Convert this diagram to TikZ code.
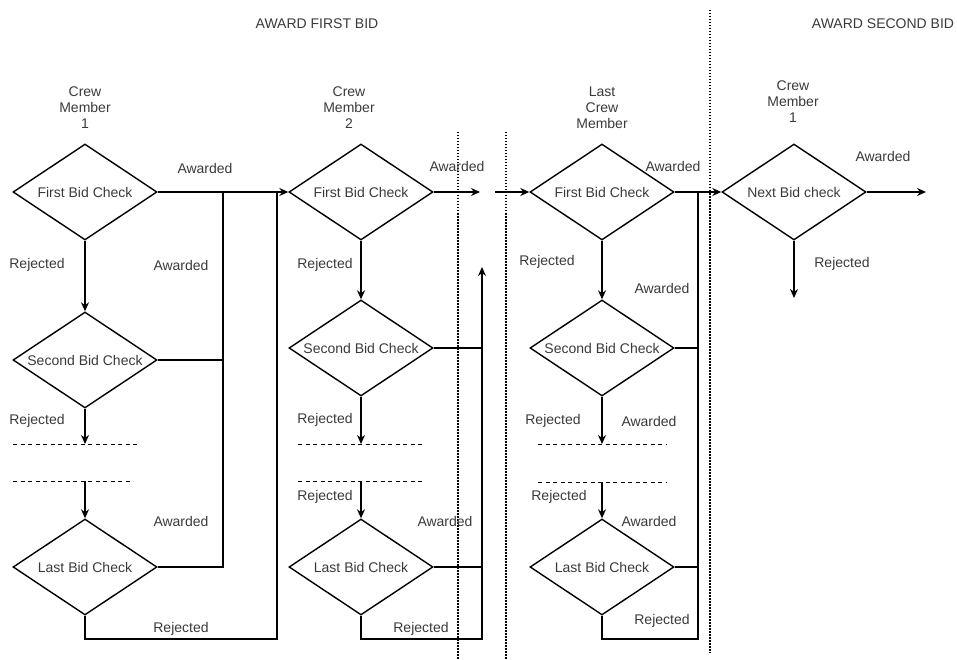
\documentclass[tikz,border=0pt]{standalone}
\usepackage{fontspec}
\setmainfont{Liberation Sans}
\usetikzlibrary{shapes.geometric,arrows.meta}
\definecolor{txt}{HTML}{3A3A3A}
\begin{document}
\begin{tikzpicture}[x=1pt, y=-1pt, >={Stealth[length=9pt,width=8pt]}, font=\fontsize{14}{16}\selectfont,
	check/.style={draw, diamond, aspect=1.5, line width=1.4pt, minimum width=144pt, minimum height=96pt, inner sep=0pt, text=txt},
	lab/.style={text=txt, inner sep=0pt},
	flow/.style={line width=1.4pt},
	cut/.style={line width=1pt, dash pattern=on 4pt off 3.5pt},
	split/.style={line width=1.2pt, dash pattern=on 1.5pt off 1.5pt}]
		\useasboundingbox (0,0) rectangle (957,660);
		% titles and crew headers
		\node[lab] (t1) at (317,24) {AWARD FIRST BID};
		\node[lab] (t2) at (883,24) {AWARD SECOND BID};
		\node[lab, align=center] (h1) at (85,108) {Crew\\Member\\1};
		\node[lab, align=center] (h2) at (349,108) {Crew\\Member\\2};
		\node[lab, align=center] (h3) at (602,108) {Last\\Crew\\Member};
		\node[lab, align=center] (h4) at (793,102) {Crew\\Member\\1};
		% checks
		\node[check] (f1) at (85,192) {First Bid Check};
		\node[check] (s1) at (85,360) {Second Bid Check};
		\node[check] (l1) at (85,567) {Last Bid Check};
		\node[check] (f2) at (361,192) {First Bid Check};
		\node[check] (s2) at (361,348) {Second Bid Check};
		\node[check] (l2) at (361,567) {Last Bid Check};
		\node[check] (f3) at (602,192) {First Bid Check};
		\node[check] (s3) at (602,348) {Second Bid Check};
		\node[check] (l3) at (602,567) {Last Bid Check};
		\node[check] (n4) at (794,192) {Next Bid check};
		% skipped checks
		\draw[cut] (13,444) -- (140,444) (13,481) -- (133,481);
		\draw[cut] (298,444) -- (425,444) (298,481) -- (425,481);
		\draw[cut] (538,444) -- (667,444) (538,482) -- (667,482);
		\coordinate (c1a) at (85,444);
		\coordinate (c1b) at (85,481);
		\coordinate (c2a) at (361,444);
		\coordinate (c2b) at (361,481);
		\coordinate (c3a) at (602,444);
		\coordinate (c3b) at (602,482);
		\coordinate (j1) at (223,192);
		\coordinate (r1) at (277,639);
		\coordinate (a2) at (480,192);
		\coordinate (b2) at (495,192);
		\coordinate (u2) at (482,267);
		\coordinate (r2) at (482,639);
		\coordinate (j3) at (698,192);
		\coordinate (r3) at (698,639);
		\coordinate (o4) at (926,192);
		\coordinate (o5) at (794,298);
		% rejected paths
		\foreach \a/\b in {f1/s1,s1/c1a,c1b/l1,f2/s2,s2/c2a,c2b/l2,f3/s3,s3/c3a,c3b/l3,n4/o5}
			\draw[flow,->] (\a) -- (\b);
		% awarded paths
		\draw[flow,->] (f1.east) -- (f2.west);
		\draw[flow] (s1.east) -| (j1);
		\draw[flow] (l1.east) -| (j1);
		\draw[flow] (l1.south) |- (r1) -- (r1 |- f2.west);
		\draw[flow,->] (f2.east) -- (a2);
		\draw[flow,->] (b2) -- (f3.west);
		\draw[flow] (s2.east) -- (s2.east -| u2);
		\draw[flow] (l2.east) -- (l2.east -| u2);
		\draw[flow,->] (l2.south) |- (r2) -- (u2);
		\draw[flow,->] (f3.east) -- (n4.west);
		\draw[flow] (s3.east) -| (j3);
		\draw[flow] (l3.east) -| (j3);
		\draw[flow] (l3.south) |- (r3) -- (j3);
		\draw[flow,->] (n4.east) -- (o4);
		% separators
		\draw[split] (458,132) -- (458,660);
		\draw[split] (506,132) -- (506,660);
		\draw[split] (710,10) -- (710,653);
		% labels
		\foreach \p [count=\i] in {(205,168),(181,265),(181,521),(457,166),(445,521),(673,166),(662,288),(649,421),(649,521),(883,156)}
			\node[lab] (aw\i) at \p {Awarded};
		\foreach \p [count=\i] in {(37,265),(37,421),(181,629),(325,265),(325,420),(325,497),(421,629),(547,262),(553,421),(559,497),(662,621),(842,264)}
			\node[lab] (rj\i) at \p {Rejected};
\end{tikzpicture}
\end{document}
